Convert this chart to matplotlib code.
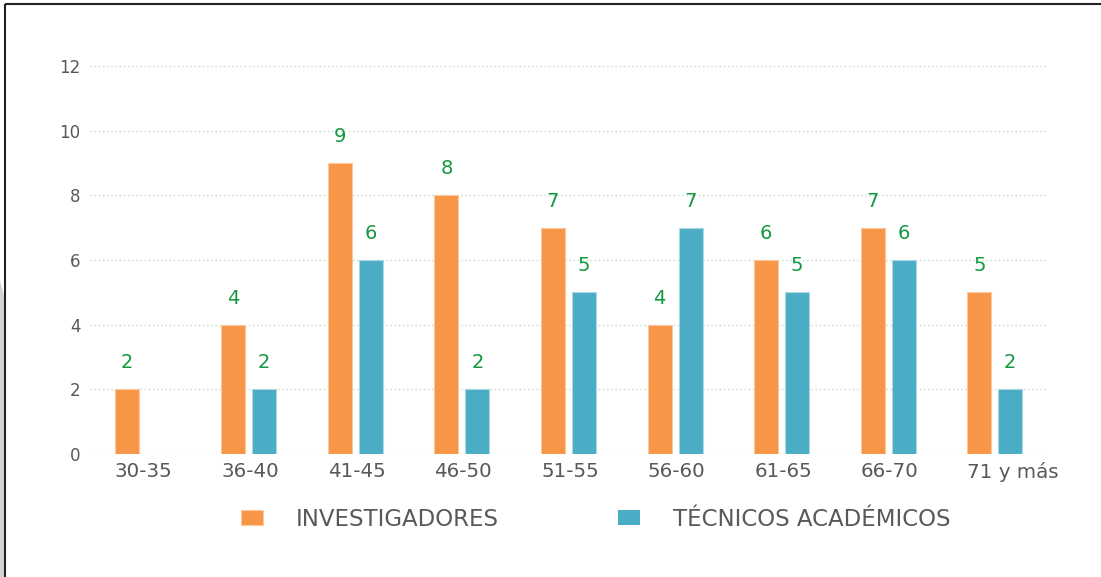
import numpy as np
import matplotlib
matplotlib.use("Agg")
import matplotlib.pyplot as plt
from matplotlib.lines import Line2D
from matplotlib.patches import Polygon

plt.rcParams["font.family"] = ["DejaVu Sans"]

# data
categories = ["30-35", "36-40", "41-45", "46-50", "51-55", "56-60", "61-65", "66-70", "71 y más"]
investigadores = [2, 4, 9, 8, 7, 4, 6, 7, 5]
tecnicos = [0, 2, 6, 2, 5, 7, 5, 6, 2]
series_names = ["INVESTIGADORES", "TÉCNICOS ACADÉMICOS"]

orange = "#F79646"
blue = "#4BACC6"
green = "#12983F"
grey = "#595959"

fig = plt.figure(figsize=(11.01, 5.77), dpi=100)
ax = fig.add_axes([90 / 1101, 1 - 454 / 577, (1047 - 90) / 1101, (454 - 66) / 577])

x = np.arange(len(categories))
w = 0.225
gap = 0.066
b1 = ax.bar(x - (w + gap) / 2, investigadores, w, color=orange, edgecolor="#fbc7a0",
            linewidth=[0.8 if v else 0 for v in investigadores], label=series_names[0], zorder=3)
b2 = ax.bar(x + (w + gap) / 2, tecnicos, w, color=blue, edgecolor="#a9d8e4",
            linewidth=[0.8 if v else 0 for v in tecnicos], label=series_names[1], zorder=3)

for bars, vals in ((b1, investigadores), (b2, tecnicos)):
    for rect, v in zip(bars, vals):
        if v == 0:
            continue
        ax.annotate(str(v), (rect.get_x() + rect.get_width() / 2, v),
                    xytext=(0, 19), textcoords="offset points",
                    ha="center", va="center", fontsize=14, color=green)

ax.set_xlim(-0.49, len(categories) - 0.51)
ax.set_ylim(0, 12)
ax.set_yticks(range(0, 13, 2))
ax.grid(axis="y", color="#c5dcc6", linestyle=(0, (1, 2)), linewidth=1, zorder=0)
ax.set_xticks(x - w - gap / 2)
ax.set_xticklabels(categories, ha="left")
ax.tick_params(axis="x", length=0, pad=6, labelsize=14.3, labelcolor=grey)
ax.tick_params(axis="y", length=0, pad=7, labelsize=12, labelcolor=grey)
for s in ax.spines.values():
    s.set_visible(False)

leg = fig.legend(handles=[b1, b2], loc="center", bbox_to_anchor=(596 / 1101, 1 - 519 / 577),
                 ncol=2, frameon=False, fontsize=16.5, labelcolor=grey,
                 handlelength=0.95, handleheight=0.65, handletextpad=1.45, columnspacing=5.2)

# frame lines and shadow at the left edge
fig.add_artist(Polygon([(0, 0), (5 / 1101, 0), (5 / 1101, 1 - 300 / 577), (0, 1 - 280 / 577)],
                       closed=True, transform=fig.transFigure, color="#d3d3d3", lw=0))
fig.add_artist(Line2D([5 / 1101, 5 / 1101], [0, 1 - 4 / 577], transform=fig.transFigure,
                      color="#222222", lw=1.5, solid_capstyle="butt"))
fig.add_artist(Line2D([5 / 1101, 1], [1 - 4 / 577, 1 - 4 / 577], transform=fig.transFigure,
                      color="#222222", lw=1.5, solid_capstyle="butt"))

fig.savefig("out.png", dpi=100)
